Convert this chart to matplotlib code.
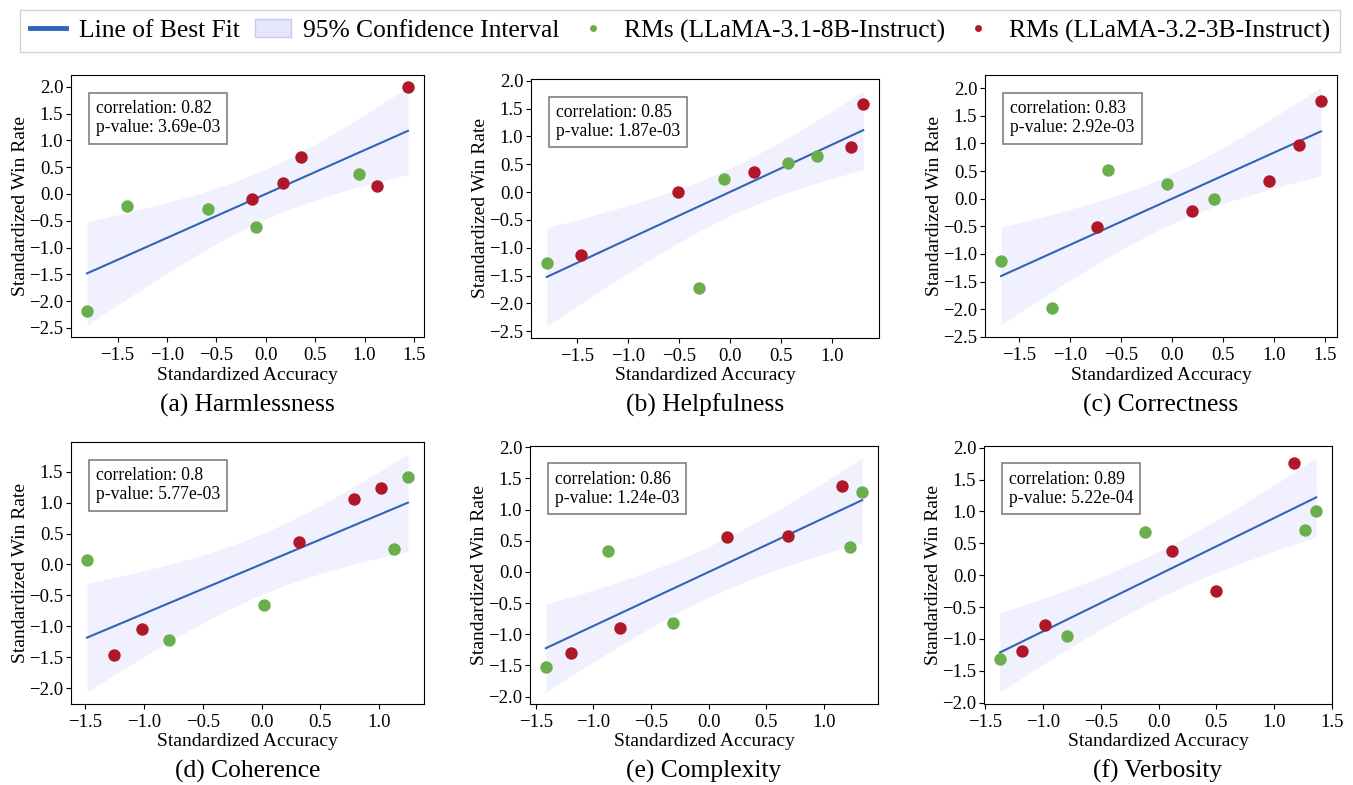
import numpy as np
import matplotlib
matplotlib.use("Agg")
import matplotlib.pyplot as plt
from matplotlib.lines import Line2D
from matplotlib.patches import Patch
from matplotlib.ticker import MultipleLocator, FuncFormatter

plt.rcParams['font.family'] = ['Liberation Serif', 'DejaVu Serif']

# data (standardized accuracy, standardized win rate)
titles = ["(a) Harmlessness", "(b) Helpfulness", "(c) Correctness",
          "(d) Coherence", "(e) Complexity", "(f) Verbosity"]
stats_text = ["correlation: 0.82\np-value: 3.69e-03",
              "correlation: 0.85\np-value: 1.87e-03",
              "correlation: 0.83\np-value: 2.92e-03",
              "correlation: 0.8\np-value: 5.77e-03",
              "correlation: 0.86\np-value: 1.24e-03",
              "correlation: 0.89\np-value: 5.22e-04"]

green_x = [[-1.81, -1.405, -0.59, -0.097, 0.944],
           [-1.80, -0.31, -0.062, 0.562, 0.85],
           [-1.68, -1.176, -0.633, -0.054, 0.414],
           [-1.486, -0.789, 0.024, 1.131, 1.247],
           [-1.413, -0.875, -0.308, 1.223, 1.33],
           [-1.373, -0.795, -0.121, 1.269, 1.364]]
green_y = [[-2.19, -0.23, -0.28, -0.62, 0.37],
           [-1.28, -1.72, 0.227, 0.514, 0.652],
           [-1.127, -1.97, 0.524, 0.265, -0.006],
           [0.075, -1.22, -0.661, 0.258, 1.419],
           [-1.52, 0.338, -0.823, 0.402, 1.276],
           [-1.318, -0.948, 0.682, 0.703, 1.005]]
red_x = [[1.44, 0.358, 0.175, -0.137, 1.127],
         [-1.464, -0.513, 0.229, 1.18, 1.304],
         [-0.741, 0.198, 0.953, 1.245, 1.46],
         [-1.253, -1.019, 0.317, 0.784, 1.014],
         [-1.196, -0.771, 0.155, 0.69, 1.153],
         [-1.179, -0.986, 0.118, 0.5, 1.173]]
red_y = [[2.0, 0.70, 0.20, -0.095, 0.15],
         [-1.14, 0.005, 0.364, 0.80, 1.59],
         [-0.518, -0.229, 0.313, 0.976, 1.777],
         [-1.468, -1.043, 0.366, 1.054, 1.237],
         [-1.308, -0.903, 0.562, 0.583, 1.382],
         [-1.19, -0.776, 0.38, -0.255, 1.766]]

GREEN = '#6aaf4b'
RED = '#b0182a'
BLUE = '#3264b4'

W, H = 1353, 785
# axes boxes in pixels: left, top, right, bottom
boxes = [(71, 75, 424, 337), (531, 79, 879, 338), (985, 75, 1337, 337),
         (71, 442, 424, 704), (530, 446, 878, 704), (984, 446, 1332, 704)]
caption_y = [405, 405, 405, 771, 771, 771]

T_CRIT = 2.306  # t(0.975, df=8)


def tick_fmt(v, pos):
    v = round(v, 6) + 0.0
    return f'{v:.1f}'.replace('-', '\u2212')


fig = plt.figure(figsize=(W / 100, H / 100), dpi=100)

for i in range(6):
    l, t, r, b = boxes[i]
    ax = fig.add_axes([l / W, 1 - b / H, (r - l) / W, (b - t) / H])
    x = np.array(green_x[i] + red_x[i])
    y = np.array(green_y[i] + red_y[i])
    n = len(x)
    slope, icpt = np.polyfit(x, y, 1)
    grid = np.linspace(x.min(), x.max(), 100)
    fit = slope * grid + icpt
    resid = y - (slope * x + icpt)
    s = np.sqrt(np.sum(resid ** 2) / (n - 2))
    se = s * np.sqrt(1 / n + (grid - x.mean()) ** 2 / np.sum((x - x.mean()) ** 2))
    ax.fill_between(grid, fit - T_CRIT * se, fit + T_CRIT * se,
                    color='blue', alpha=0.06, linewidth=0)
    ax.plot(grid, fit, color=BLUE, lw=1.5)
    ax.scatter(green_x[i], green_y[i], s=80, color=GREEN, zorder=3, linewidths=0)
    ax.scatter(red_x[i], red_y[i], s=80, color=RED, zorder=3, linewidths=0)
    ax.text(0.071, 0.905, stats_text[i], transform=ax.transAxes, fontsize=12.7,
            va='top', ha='left', linespacing=1.2,
            bbox=dict(boxstyle='square,pad=0.4', facecolor='white', edgecolor='gray', lw=1.2))
    ax.xaxis.set_major_locator(MultipleLocator(0.5))
    ax.yaxis.set_major_locator(MultipleLocator(0.5))
    ax.xaxis.set_major_formatter(FuncFormatter(tick_fmt))
    ax.yaxis.set_major_formatter(FuncFormatter(tick_fmt))
    ax.set_xlabel("Standardized Accuracy", fontsize=14, labelpad=2)
    ax.set_ylabel("Standardized Win Rate", fontsize=14, labelpad=0)
    ax.tick_params(labelsize=13.5)
    ax.tick_params(axis='y', pad=2)
    fig.text((l + r) / 2 / W, 1 - caption_y[i] / H, titles[i], fontsize=18.4,
             ha='center', va='center')

handles = [Line2D([0], [0], color=BLUE, lw=3.5),
           Patch(facecolor='#e6e6fa', edgecolor='#c8c8f5'),
           Line2D([0], [0], marker='o', color='w', markerfacecolor=GREEN, markersize=6),
           Line2D([0], [0], marker='o', color='w', markerfacecolor=RED, markersize=6)]
labels = ["Line of Best Fit", "95% Confidence Interval",
          "RMs (LLaMA-3.1-8B-Instruct)", "RMs (LLaMA-3.2-3B-Instruct)"]
fig.legend(handles, labels, ncol=4, loc='center', bbox_to_anchor=(680 / W, 1 - 31 / H),
           fontsize=18.4, frameon=True, fancybox=False, edgecolor='#c8c8c8',
           handlelength=1.4, handletextpad=0.5, columnspacing=0.6, borderpad=0.38,
           borderaxespad=0)

fig.savefig("out.png", dpi=100)
